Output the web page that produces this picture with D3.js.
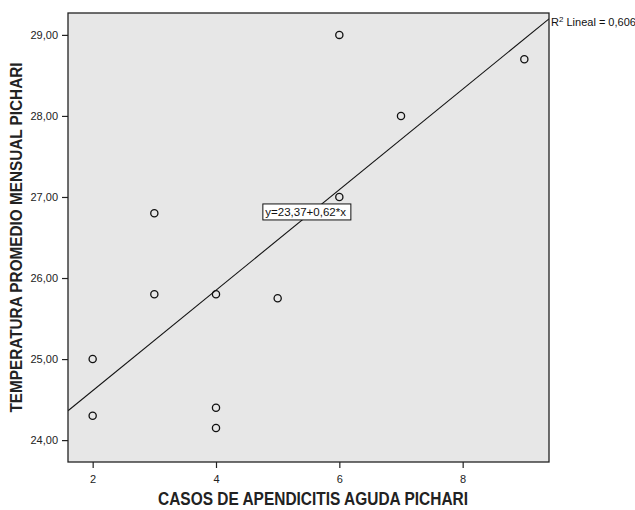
<!DOCTYPE html>
<html>
<head>
<meta charset="utf-8">
<script src="https://cdn.jsdelivr.net/npm/d3@7"></script>
<style>
    body { margin: 0; background: #fff; }
    svg { display: block; font-family: Arial, "Liberation Sans", sans-serif; }
</style>
</head>
<body>
<svg id="chart"></svg>
<script>
const casos = [2, 2, 3, 3, 4, 4, 4, 5, 6, 6, 7, 9];
const temperatura = [25.0, 24.3, 26.8, 25.8, 25.8, 24.4, 24.15, 25.75, 29.0, 27.0, 28.0, 28.7];
const xTicks = [2, 4, 6, 8];
const yTicks = [24, 25, 26, 27, 28, 29];
const fit = { intercept: 23.37, slope: 0.62, r2: 0.606 };

const width = 635;
const height = 510;
const margin = { top: 13, right: 86, bottom: 48, left: 68 };

const svg = d3.select('#chart')
    .attr('width', width)
    .attr('height', height);

const plot = {
    width: width - margin.left - margin.right,
    height: height - margin.top - margin.bottom
};

const x = d3.scaleLinear()
    .domain([1.60, 9.40])
    .range([0, plot.width]);

const y = d3.scaleLinear()
    .domain([23.73, 29.27])
    .range([plot.height, 0]);

const comma = d => d3.format('.2f')(d).replace('.', ',');

svg.append('defs')
    .append('clipPath')
    .attr('id', 'plotClip')
    .append('rect')
    .attr('width', plot.width)
    .attr('height', plot.height);

const g = svg.append('g')
    .attr('transform', `translate(${margin.left},${margin.top})`);

g.append('rect')
    .attr('width', plot.width)
    .attr('height', plot.height)
    .attr('fill', '#e7e7e7');

// recta de regresion
const fx = x.domain();
g.append('line')
    .attr('clip-path', 'url(#plotClip)')
    .attr('x1', x(fx[0]))
    .attr('y1', y(fit.intercept + fit.slope * fx[0]))
    .attr('x2', x(fx[1]))
    .attr('y2', y(fit.intercept + fit.slope * fx[1]))
    .attr('stroke', '#111')
    .attr('stroke-width', 1.1);

g.selectAll('circle.pt')
    .data(casos.map((c, i) => [c, temperatura[i]]))
    .join('circle')
    .classed('pt', true)
    .attr('cx', d => x(d[0]))
    .attr('cy', d => y(d[1]))
    .attr('r', 3.6)
    .attr('fill', 'none')
    .attr('stroke', '#111')
    .attr('stroke-width', 1.3);

// etiqueta de la ecuacion
const eq = g.append('g')
    .attr('transform', `translate(${x(4.76)},${y(26.914)})`);
eq.append('rect')
    .attr('width', 88)
    .attr('height', 16)
    .attr('fill', '#fff')
    .attr('stroke', '#111')
    .attr('stroke-width', 1);
eq.append('text')
    .attr('x', 2.5)
    .attr('y', 12)
    .attr('font-size', 11.5)
    .attr('fill', '#111')
    .text(`y=${comma(fit.intercept)}+${comma(fit.slope)}*x`);

g.append('rect')
    .attr('width', plot.width)
    .attr('height', plot.height)
    .attr('fill', 'none')
    .attr('stroke', '#222')
    .attr('stroke-width', 1.3);

const r2 = g.append('text')
    .attr('x', plot.width + 2)
    .attr('y', 13)
    .attr('font-size', 11)
    .attr('fill', '#111');
r2.append('tspan').text('R');
r2.append('tspan').attr('dy', -4.5).attr('font-size', 8).text('2');
r2.append('tspan').attr('dy', 4.5).text(` Lineal = ${d3.format('.3f')(fit.r2).replace('.', ',')}`);

const xAxis = g.append('g')
    .attr('transform', `translate(0,${plot.height})`)
    .call(d3.axisBottom(x).tickValues(xTicks).tickSize(6).tickSizeOuter(0).tickFormat(d3.format('d')));
const yAxis = g.append('g')
    .call(d3.axisLeft(y).tickValues(yTicks).tickSize(6).tickSizeOuter(0).tickFormat(comma));

[xAxis, yAxis].forEach(a => {
    a.select('.domain').remove();
    a.selectAll('line').attr('stroke', '#222').attr('stroke-width', 1.2);
    a.selectAll('text')
        .attr('font-family', 'Arial, "Liberation Sans", sans-serif')
        .attr('font-size', 11)
        .attr('fill', '#222');
});
xAxis.selectAll('text').attr('dy', '1.1em');
yAxis.selectAll('text').attr('dx', '-1px');

svg.append('text')
    .attr('x', 313)
    .attr('y', 505)
    .attr('text-anchor', 'middle')
    .attr('font-size', 17.5)
    .attr('font-weight', 'bold')
    .attr('textLength', 310)
    .attr('lengthAdjust', 'spacingAndGlyphs')
    .attr('fill', '#222')
    .text('CASOS DE APENDICITIS AGUDA PICHARI');

svg.append('text')
    .attr('transform', `translate(22,${margin.top + plot.height / 2}) rotate(-90)`)
    .attr('text-anchor', 'middle')
    .attr('font-size', 17)
    .attr('font-weight', 'bold')
    .attr('textLength', 350)
    .attr('lengthAdjust', 'spacingAndGlyphs')
    .attr('fill', '#222')
    .text('TEMPERATURA PROMEDIO MENSUAL PICHARI');
</script>
</body>
</html>
